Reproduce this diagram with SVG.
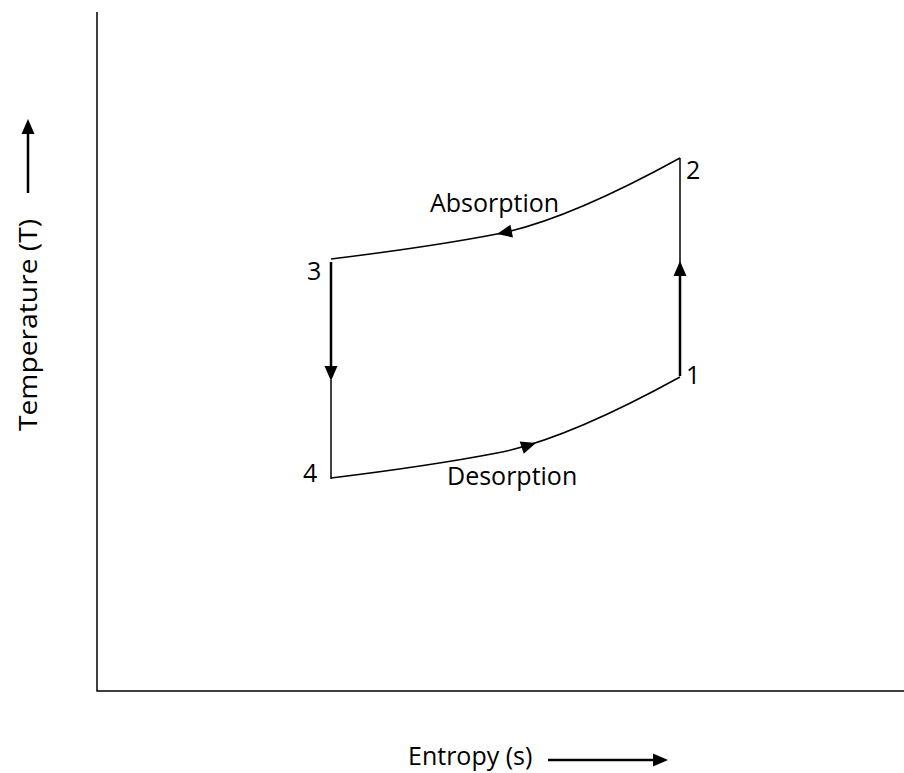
<svg xmlns="http://www.w3.org/2000/svg" xmlns:xlink="http://www.w3.org/1999/xlink" width="904" height="773" viewBox="0 0 904 773">
  <defs>
    <style>
      .ln { fill: none; stroke: #000; stroke-width: 1.5; }
      .thk { fill: none; stroke: #000; stroke-width: 2.5; }
      .lbl { font-family: "Open Sans", "Liberation Sans", sans-serif; font-size: 25px; fill: #000; }
    </style>
    <path id="ah" d="M0,0 L-15,-6.5 L-15,6.5 Z" fill="#000"/>
  </defs>
  <rect width="904" height="773" fill="#fff"/>

  <g id="axes">
    <path class="ln" d="M97,12 L97,691 L904,691"/>
  </g>

  <g id="y-axis-label">
    <text class="lbl" transform="translate(37,325) rotate(-90)" text-anchor="middle" font-size="29" textLength="212" lengthAdjust="spacingAndGlyphs">Temperature (T)</text>
    <line class="thk" x1="28" y1="193" x2="28" y2="132" stroke-width="2"/>
    <use xlink:href="#ah" transform="translate(28,119) rotate(-90)"/>
  </g>

  <g id="x-axis-label">
    <text class="lbl" x="408" y="765" font-size="25.5">Entropy (s)</text>
    <line class="thk" x1="548" y1="760" x2="656" y2="760" stroke-width="2"/>
    <use xlink:href="#ah" transform="translate(668,760)"/>
  </g>

  <g id="connectors">
    <path class="ln" d="M680,158 C640,180 560,222 497,234 C440,245 380,253 331,259"/>
    <use xlink:href="#ah" transform="translate(497,234) rotate(169)"/>
    <path class="thk" d="M331,262 L331,367"/>
    <path class="ln" d="M331,380 L331,479"/>
    <use xlink:href="#ah" transform="translate(331,381) rotate(90)"/>
    <path class="ln" d="M331,478 C380,472 440,464 497,453 C560,441 640,399 680,377"/>
    <use xlink:href="#ah" transform="translate(536,443) rotate(-18)"/>
    <path class="thk" d="M680,376 L680,274"/>
    <path class="ln" d="M680,264 L680,158"/>
    <use xlink:href="#ah" transform="translate(680,261) rotate(-90)"/>
  </g>

  <g id="node-1"><text class="lbl" x="686" y="384">1</text></g>
  <g id="node-2"><text class="lbl" x="686" y="179">2</text></g>
  <g id="node-3"><text class="lbl" x="307" y="280">3</text></g>
  <g id="node-4"><text class="lbl" x="303" y="482">4</text></g>

  <g id="label-absorption"><text class="lbl" x="430" y="212">Absorption</text></g>
  <g id="label-desorption"><text class="lbl" x="447" y="485">Desorption</text></g>
</svg>
